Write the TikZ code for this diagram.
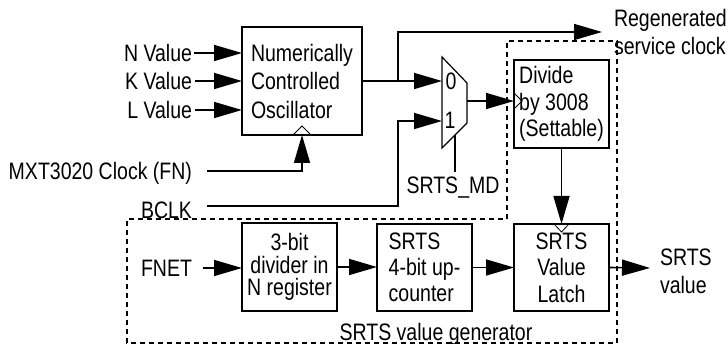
\documentclass[tikz,border=0pt]{standalone}
\usepackage{fontspec}
\setmainfont[FakeStretch=0.82]{Liberation Sans}
\usetikzlibrary{arrows.meta,calc}
\begin{document}
\begin{tikzpicture}[x=1pt,y=-1pt,
  every node/.style={inner sep=0pt,outer sep=0pt},
  txt/.style={font=\fontsize{23.8}{26.5}\selectfont},
  lbl/.style={txt,text height=17pt,text depth=0pt},
  blk/.style={draw,line width=1.8pt,minimum width=95pt,minimum height=87pt},
  wire/.style={line width=1.6pt},
  arr/.style={wire,-{Triangle[length=28pt,width=16pt]}},
  clk/.style={line width=0.8pt},
  region/.style={line width=1.5pt,dash pattern=on 5pt off 4pt}]
\useasboundingbox (0,0) rectangle (728,344);

% blocks
\node[blk,minimum width=120pt,minimum height=108pt,align=left,
  font=\fontsize{23.8}{28.5}\selectfont] (nco) at (302,81)
  {Numerically\\Controlled\\Oscillator};
\node[blk,minimum height=88pt,align=left,font=\fontsize{23.8}{26.5}\selectfont]
  (div) at (561.5,104) {Divide\\by 3008\\(Settable)};
\node[blk,minimum height=88pt,align=center,font=\fontsize{23.8}{22.5}\selectfont]
  (div3) at (289.5,267) {3-bit\\divider in\\N register};
\node[blk,align=left,font=\fontsize{23.8}{26}\selectfont]
  (cnt) at (424.5,267.5) {SRTS\\4-bit up-\\counter};
\node[blk,align=center,font=\fontsize{23.8}{26.5}\selectfont]
  (latch) at (561.5,267.5) {SRTS\\Value\\Latch};

% clock markers
\draw[clk] (293,135) -- (302,126) -- (311,135);
\draw[clk] (514,93) -- (522,101) -- (514,109);
\draw[clk] (554,224) -- (561.5,232) -- (569,224);

% multiplexer
\draw[line width=1.2pt] (442,57) -- (467,83) -- (467,123) -- (442,148) -- cycle;
\coordinate (m0) at (442,81);
\coordinate (m1) at (442,121);
\coordinate (mout) at (467,101);
\coordinate (msel) at (455,135);
\coordinate (mselend) at (455,172);
\node[lbl] (z0) at (451,81) {0};
\node[lbl] (z1) at (450,120) {1};

% labels
\node[lbl,anchor=east] (nv) at (192,53) {N Value};
\node[lbl,anchor=east] (kv) at (192,81) {K Value};
\node[lbl,anchor=east] (lv) at (192,110) {L Value};
\node[lbl,anchor=east] (mxt) at (192,171) {MXT3020 Clock (FN)};
\node[lbl,anchor=east] (bclk) at (192,210) {BCLK};
\node[lbl,anchor=east] (fnet) at (192,268) {FNET};
\node[lbl] (smd) at (453,185) {SRTS\_MD};
\node[txt,align=left,anchor=west,font=\fontsize{23.8}{28}\selectfont]
  (regen) at (614,32) {Regenerated\\service clock};
\node[txt,align=left,anchor=west,font=\fontsize{23.8}{28}\selectfont]
  (sval) at (660,271) {SRTS\\value};
\node[lbl] (gen) at (436,332) {SRTS value generator};

\coordinate (br) at (398,81);
\coordinate (bk) at (398,121);
\coordinate (regtip) at (602,32);
\coordinate (outtip) at (650,268);

% connectors
\draw[arr] ([xshift=2pt]nv.east) -- (nv.east -| nco.west);
\draw[arr] ([xshift=3pt]kv.east) -- (kv.east -| nco.west);
\draw[arr] ([xshift=3pt]lv.east) -- (lv.east -| nco.west);
\draw[arr] ([xshift=15pt]mxt.east) -| (nco.south);
\draw[wire] (nco.east) -- (br);
\draw[arr] (br) |- (regtip);
\draw[arr] (br) -- (m0);
\draw[arr] ([xshift=15pt,yshift=4pt]bclk.east) -| (bk) -- (m1);
\draw[arr] (mout) -- (mout -| div.west);
\draw[wire] (msel) -- (mselend);
\draw[arr] (div.south) -- (latch.north);
\draw[arr] ([xshift=11pt]fnet.east) -- (fnet.east -| div3.west);
\draw[arr] (div3.east) -- (div3.east -| cnt.west);
\draw[arr] (cnt.east) -- (latch.west);
\draw[arr] (latch.east) -- (outtip);

% dashed regions
\draw[region] (507,219) -- (507,41) -- (617,41) -- (617,343) -- (127,343) -- (127,219) -- cycle;
\end{tikzpicture}
\end{document}
